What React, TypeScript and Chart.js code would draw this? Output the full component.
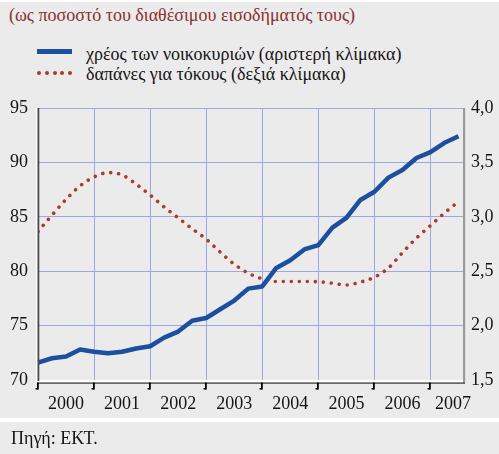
import React, { useEffect, useRef } from "react";
import { Chart, registerables } from "chart.js";

Chart.register(...registerables);

// Quarterly observations, 2000 Q1 .. 2007 Q3
const quarters: number[] = Array.from({ length: 31 }, (_, i) => 2000 + i / 4);

// household debt, % of disposable income (left scale)
const householdDebt: number[] = [
  71.6, 72.0, 72.15, 72.8, 72.6, 72.45, 72.6, 72.9, 73.1, 73.9, 74.45, 75.45,
  75.7, 76.5, 77.3, 78.4, 78.6, 80.3, 81.0, 82.0, 82.4, 84.0, 84.9, 86.55,
  87.3, 88.6, 89.3, 90.4, 90.95, 91.8, 92.4,
];

// interest payments, % of disposable income (right scale)
const interestPayments: number[] = [
  2.865, 3.015, 3.16, 3.285, 3.366, 3.406, 3.385, 3.30, 3.20, 3.09, 2.99, 2.89,
  2.795, 2.676, 2.565, 2.482, 2.43, 2.405, 2.405, 2.405, 2.403, 2.39, 2.373,
  2.40, 2.445, 2.53, 2.67, 2.805, 2.92, 3.035, 3.14,
];

const yearTicks: number[] = [2000, 2001, 2002, 2003, 2004, 2005, 2006, 2007];
const yearLabels: string[] = ["2000", "2001", "2002", "2003", "2004", "2005", "2006", "2007"];
const yearLabelPositions: number[] = [2000.5, 2001.5, 2002.5, 2003.5, 2004.5, 2005.5, 2006.5, 2007.4];

const titleText = "(ως ποσοστό του διαθέσιμου εισοδήματός τους)";
const legendDebt = "χρέος των νοικοκυριών (αριστερή κλίμακα)";
const legendInterest = "δαπάνες για τόκους (δεξιά κλίμακα)";
const sourceText = "Πηγή: ΕΚΤ.";

const FONT = "'Liberation Serif', 'Times New Roman', serif";
const BG = "#ebebeb";
const GRID = "rgb(155,168,226)";
const BLUE = "#1d4f9f";
const RED = "#b0392f";
const TEXT = "#141414";

const framePlugin = {
  id: "frame",
  afterDatasetsDraw(chart: any) {
    const { ctx, chartArea } = chart;
    const { left, right, top, bottom } = chartArea;
    const xs = chart.scales.x;
    ctx.save();
    // white band under plot
    ctx.fillStyle = "#ffffff";
    ctx.fillRect(left, bottom, right - left + 2, 2.5);
    // left axis
    ctx.fillStyle = "#ffffff";
    ctx.fillRect(left - 2, top, 1.5, bottom - top + 2);
    ctx.fillStyle = "#4a4a4a";
    ctx.fillRect(left - 0.5, top, 1.8, bottom - top + 1);
    // right axis
    ctx.fillStyle = "#9b9b9b";
    ctx.fillRect(right, top, 2.2, bottom - top + 3);
    // bottom line
    ctx.fillStyle = "#303030";
    ctx.fillRect(left - 1, bottom + 2.5, right - left + 3, 1.2);
    // tick marks
    ctx.fillStyle = "#000000";
    yearTicks.forEach((v) => {
      const px = Math.round(xs.getPixelForValue(v));
      ctx.fillRect(px - 1, bottom + 2.5, 1.8, 7);
      ctx.fillRect(px - 2.5, bottom + 8, 2.5, 1.5);
    });
    // year labels
    ctx.fillStyle = TEXT;
    ctx.font = `18px ${FONT}`;
    ctx.textAlign = "center";
    ctx.textBaseline = "alphabetic";
    yearLabels.forEach((lab, i) => {
      ctx.fillText(lab, xs.getPixelForValue(yearLabelPositions[i]), 408.5);
    });
    ctx.restore();
  },
};

function ChartCanvas() {
  const ref = useRef<HTMLCanvasElement | null>(null);
  useEffect(() => {
    document.body.style.margin = "0";
    const canvas = ref.current;
    if (!canvas) return;
    const chart = new Chart(canvas, {
      type: "line",
      data: {
        datasets: [
          {
            label: legendDebt,
            data: quarters.map((q, i) => ({ x: q, y: householdDebt[i] })),
            yAxisID: "y",
            borderColor: BLUE,
            borderWidth: 4.5,
            pointRadius: 0,
            tension: 0,
            borderJoinStyle: "round",
          },
          {
            label: legendInterest,
            data: quarters.map((q, i) => ({ x: q, y: interestPayments[i] })),
            yAxisID: "y1",
            borderColor: RED,
            borderWidth: 3.6,
            borderDash: [0.01, 8],
            borderCapStyle: "round",
            pointRadius: 0,
            cubicInterpolationMode: "monotone",
          },
        ],
      },
      plugins: [framePlugin],
      options: {
        animation: false,
        responsive: false,
        maintainAspectRatio: false,
        devicePixelRatio: 1,
        layout: { padding: { top: 108, left: 0, right: 0, bottom: 0 } },
        plugins: {
          legend: { display: false },
          tooltip: { enabled: false },
          title: { display: false },
        },
        scales: {
          x: {
            type: "linear",
            min: 2000,
            max: 2007.58,
            position: "bottom",
            afterBuildTicks: (scale: any) => {
              scale.ticks = yearTicks.map((v) => ({ value: v }));
            },
            afterFit: (scale: any) => {
              scale.height = 74;
            },
            ticks: { display: false },
            grid: { color: GRID, lineWidth: 1, drawTicks: false },
            border: { display: false },
          },
          y: {
            type: "linear",
            position: "left",
            min: 70,
            max: 95,
            afterFit: (scale: any) => {
              scale.width = 38;
            },
            ticks: {
              stepSize: 5,
              padding: 10,
              color: TEXT,
              font: { family: FONT, size: 18 },
            },
            grid: { color: GRID, lineWidth: 1, drawTicks: false },
            border: { display: false },
          },
          y1: {
            type: "linear",
            position: "right",
            min: 1.5,
            max: 4.0,
            afterFit: (scale: any) => {
              scale.width = 36;
            },
            ticks: {
              stepSize: 0.5,
              padding: 8,
              color: TEXT,
              font: { family: FONT, size: 18 },
              callback: (v: any) => Number(v).toFixed(1).replace(".", ","),
            },
            grid: { display: false, drawTicks: false },
            border: { display: false },
          },
        },
      },
    } as any);
    return () => chart.destroy();
  }, []);
  return (
    <canvas
      ref={ref}
      width={499}
      height={454}
      style={{ position: "absolute", left: 0, top: 0, width: 499, height: 454 }}
    />
  );
}

const textStyle: React.CSSProperties = {
  position: "absolute",
  fontFamily: FONT,
  fontSize: 18,
  lineHeight: "20px",
  whiteSpace: "nowrap",
  color: TEXT,
};

export default function App() {
  const dots = [0, 1, 2, 3, 4];
  return (
    <div style={{ position: "relative", width: 499, height: 454, background: BG, overflow: "hidden" }}>
      <div style={{ position: "absolute", left: 0, top: 0, width: 499, height: 1.5, background: "#fff" }} />
      <div style={{ ...textStyle, left: 9, top: 5, color: "#8a3030" }}>{titleText}</div>
      <div style={{ position: "absolute", left: 37, top: 49, width: 35, height: 4.5, background: BLUE }} />
      <div style={{ ...textStyle, left: 86, top: 44 }}>{legendDebt}</div>
      {dots.map((d) => (
        <div
          key={d}
          style={{
            position: "absolute",
            left: 37.3 + d * 7.7,
            top: 71.3,
            width: 4,
            height: 4,
            borderRadius: 2,
            background: RED,
          }}
        />
      ))}
      <div style={{ ...textStyle, left: 86, top: 64 }}>{legendInterest}</div>
      <ChartCanvas />
      <div style={{ position: "absolute", left: 0, top: 418, width: 499, height: 3.5, background: "#fff" }} />
      <div style={{ ...textStyle, left: 11, top: 428 }}>{sourceText}</div>
    </div>
  );
}
